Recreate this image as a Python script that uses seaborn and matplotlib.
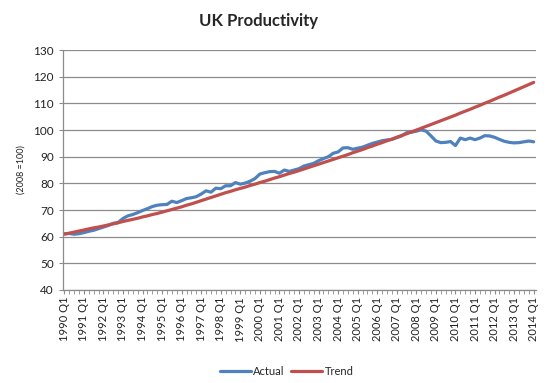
import pandas as pd
import numpy as np
import matplotlib.pyplot as plt
import seaborn as sns

# Quarterly labels 1990 Q1 .. 2014 Q1
years = list(range(1990, 2015))
quarters = [f"{y} Q{q}" for y in years for q in range(1, 5)][:97]

actual = [
    61.0, 61.2, 60.9, 61.1,
    61.5, 62.0, 62.4, 63.0,
    63.6, 64.2, 65.0, 65.3,
    66.8, 67.8, 68.3, 69.0,
    69.8, 70.5, 71.3, 71.8,
    72.0, 72.1, 73.3, 72.8,
    73.5, 74.3, 74.6, 75.0,
    76.0, 77.2, 76.7, 78.2,
    78.0, 79.1, 79.1, 80.3,
    79.7, 80.1, 80.8, 81.8,
    83.5, 84.0, 84.4, 84.5,
    83.8, 85.0, 84.5, 85.0,
    85.5, 86.5, 87.0, 87.5,
    88.5, 89.3, 90.0, 91.3,
    91.8, 93.3, 93.4, 92.8,
    93.2, 93.6, 94.3, 95.0,
    95.5, 96.0, 96.3, 96.5,
    97.2, 97.8, 99.0, 99.2,
    99.6, 100.1, 99.6, 97.8,
    95.9, 95.3, 95.4, 95.7,
    94.2, 97.0, 96.4, 97.0,
    96.4, 97.0, 97.9, 97.8,
    97.3, 96.5, 95.8, 95.4,
    95.2, 95.3, 95.6, 95.9,
    95.6,
]

trend = [
    61.0, 61.3, 61.7, 62.1,
    62.5, 62.9, 63.3, 63.6,
    64.0, 64.4, 64.8, 65.2,
    65.7, 66.1, 66.5, 66.9,
    67.4, 67.8, 68.3, 68.7,
    69.2, 69.7, 70.2, 70.7,
    71.2, 71.8, 72.3, 72.9,
    73.5, 74.1, 74.7, 75.3,
    75.9, 76.5, 77.0, 77.6,
    78.1, 78.6, 79.2, 79.7,
    80.3, 80.8, 81.4, 82.0,
    82.5, 83.1, 83.7, 84.2,
    84.8, 85.4, 86.0, 86.6,
    87.2, 87.8, 88.4, 89.0,
    89.6, 90.2, 90.8, 91.5,
    92.1, 92.7, 93.4, 94.0,
    94.7, 95.3, 96.0, 96.6,
    97.3, 98.0, 98.6, 99.3,
    100.0, 100.7, 101.4, 102.1,
    102.8, 103.5, 104.2, 104.9,
    105.6, 106.4, 107.1, 107.8,
    108.6, 109.3, 110.1, 110.8,
    111.6, 112.4, 113.1, 113.9,
    114.7, 115.5, 116.3, 117.1,
    117.9,
]

df = pd.DataFrame({"quarter": quarters, "Actual": actual, "Trend": trend})
df["idx"] = range(len(df))
long = df.melt(id_vars=["quarter", "idx"], value_vars=["Actual", "Trend"],
               var_name="series", value_name="value")

sns.set_style("white")
plt.rcParams["font.family"] = ["Lato", "DejaVu Sans"]

fig = plt.figure(figsize=(5.51, 3.83), dpi=100)
ax = fig.add_axes([0.114, 0.243, 0.859, 0.626])

sns.lineplot(data=long, x="idx", y="value", hue="series",
             palette={"Actual": "#4F81BD", "Trend": "#C0504D"},
             linewidth=2.3, ax=ax, legend=False)

ax.set_xlim(-0.3, 96.5)
ax.set_ylim(40, 130)
ax.set_yticks(range(40, 131, 10))
ax.yaxis.grid(True, color="#8c8c8c", linewidth=0.9)
ax.set_axisbelow(True)

ax.set_xticks(df["idx"][::4])
ax.set_xticklabels(df["quarter"][::4], rotation=90, fontsize=8, color="#222222")
ax.set_xticks(df["idx"], minor=True)
ax.tick_params(axis="x", which="both", direction="out", length=3, color="#8c8c8c",
               bottom=True, pad=2)
ax.tick_params(axis="y", direction="out", length=3, color="#8c8c8c", left=True,
               labelsize=8.5, labelcolor="#222222")

for s in ["top", "right"]:
    ax.spines[s].set_visible(False)
for s in ["left", "bottom"]:
    ax.spines[s].set_color("#8c8c8c")
    ax.spines[s].set_linewidth(0.9)

ax.set_xlabel("")
ax.set_ylabel("(2008 =100)", fontsize=6.5, color="#222222")
ax.yaxis.set_label_coords(-0.078, 0.5)

fig.suptitle("UK Productivity", x=0.47, y=0.965, fontsize=12, fontweight="bold")

handles = [plt.Line2D([], [], color="#4F81BD", linewidth=2.3),
           plt.Line2D([], [], color="#C0504D", linewidth=2.3)]
fig.legend(handles, ["Actual", "Trend"], loc="lower center", bbox_to_anchor=(0.52, -0.01),
           ncol=2, frameon=False, fontsize=8, handlelength=2.8, columnspacing=0.6,
           handletextpad=0.2)

fig.savefig("out.png", dpi=100)
